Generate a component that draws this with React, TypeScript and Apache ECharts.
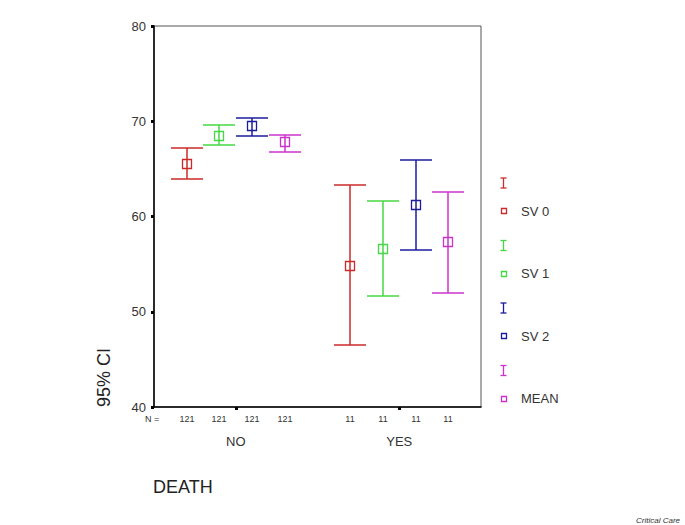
import React, { useEffect, useRef } from "react";
import * as echarts from "echarts";

const categories = ["NO", "YES"];
const seriesNames = ["SV 0", "SV 1", "SV 2", "MEAN"];
const colors = ["#cc2a2a", "#44d844", "#1c1c9c", "#cc33cc"];
const meanValues = [
  [65.5, 54.8],
  [68.5, 56.6],
  [69.5, 61.2],
  [67.8, 57.3],
];
const lowerValues = [
  [63.9, 46.5],
  [67.5, 51.7],
  [68.5, 56.5],
  [66.8, 52.0],
];
const upperValues = [
  [67.2, 63.3],
  [69.6, 61.6],
  [70.3, 65.9],
  [68.6, 62.6],
];
const nValues = [121, 11];
const yMin = 40;
const yMax = 80;
const yInterval = 10;

const FONT = "Liberation Sans, Arial, sans-serif";

export default function App() {
  const ref = useRef<HTMLDivElement>(null);
  useEffect(() => {
    if (!ref.current) return;
    const chart = echarts.init(ref.current, null, { renderer: "svg" });

    const series = seriesNames.map((name, s) => ({
      type: "custom",
      name,
      clip: false,
      encode: { x: 0, y: [1, 2] },
      data: categories.map((c, i) => [
        i,
        lowerValues[s][i],
        upperValues[s][i],
        meanValues[s][i],
        nValues[i],
      ]),
      renderItem: (params: any, api: any) => {
        const ci = api.value(0);
        const lo = api.value(1);
        const hi = api.value(2);
        const m = api.value(3);
        const n = api.value(4);
        const band = api.size([1, 0])[0];
        const offset = (s - 1.5) * band * 0.2;
        const x = Math.round(api.coord([ci, m])[0] + offset);
        const yLo = Math.round(api.coord([ci, lo])[1]);
        const yHi = Math.round(api.coord([ci, hi])[1]);
        const yM = api.coord([ci, m])[1];
        const yBase = api.coord([ci, yMin])[1];
        const half = 16;
        const st = { stroke: colors[s], lineWidth: 1.5, fill: "none" };
        return {
          type: "group",
          children: [
            { type: "line", shape: { x1: x, y1: yHi, x2: x, y2: yLo }, style: st },
            { type: "line", shape: { x1: x - half, y1: yHi, x2: x + half, y2: yHi }, style: st },
            { type: "line", shape: { x1: x - half, y1: yLo, x2: x + half, y2: yLo }, style: st },
            {
              type: "rect",
              shape: { x: x - 4.5, y: Math.round(yM) - 4.5, width: 9, height: 9 },
              style: { stroke: colors[s], lineWidth: 1.3, fill: "none" },
            },
            {
              type: "text",
              x: x,
              y: yBase + 12,
              style: {
                text: String(n),
                textAlign: "center",
                textVerticalAlign: "middle",
                fontSize: 9,
                fontFamily: FONT,
                fill: "#333",
                stroke: "none",
                lineWidth: 0,
              },
            },
          ],
        };
      },
    }));

    const legendGraphics: any[] = [];
    seriesNames.forEach((name, i) => {
      const boxY = 211 + 62.5 * i;
      const iY = boxY - 28;
      const st = { stroke: colors[i], lineWidth: 1.3, fill: "none" };
      legendGraphics.push(
        { type: "line", shape: { x1: 503.5, y1: iY - 5, x2: 503.5, y2: iY + 5 }, style: st },
        { type: "line", shape: { x1: 500.5, y1: iY - 5, x2: 506.5, y2: iY - 5 }, style: st },
        { type: "line", shape: { x1: 500.5, y1: iY + 5, x2: 506.5, y2: iY + 5 }, style: st },
        { type: "rect", shape: { x: 501.5, y: Math.round(boxY) - 2.5, width: 5, height: 5 }, style: st },
        {
          type: "text",
          x: 521,
          y: boxY,
          style: {
            text: name,
            textVerticalAlign: "middle",
            fontSize: 13,
            fontFamily: FONT,
            fill: "#333",
          },
        }
      );
    });

    chart.setOption({
      animation: false,
      backgroundColor: "#fff",
      grid: {
        left: 154,
        right: 204,
        top: 26,
        bottom: 118,
        show: true,
        borderColor: "#555",
        borderWidth: 1,
      },
      xAxis: {
        type: "category",
        data: categories,
        boundaryGap: true,
        axisLine: { lineStyle: { color: "#000", width: 1.5 } },
        axisTick: { show: true, alignWithLabel: true, length: 3, inside: false, lineStyle: { color: "#000", width: 3 } },
        axisLabel: { margin: 28, fontSize: 13, fontFamily: FONT, color: "#333" },
        splitLine: { show: false },
      },
      yAxis: {
        type: "value",
        min: yMin,
        max: yMax,
        interval: yInterval,
        axisLine: { show: true, lineStyle: { color: "#000", width: 1.5 } },
        axisTick: { show: true, length: 3, lineStyle: { color: "#000", width: 3 } },
        axisLabel: { margin: 8, fontSize: 13, fontFamily: FONT, color: "#333" },
        splitLine: { show: false },
      },
      series,
      graphic: [
        {
          type: "text",
          x: 152,
          y: 419,
          style: { text: "N =", textAlign: "center", textVerticalAlign: "middle", fontSize: 9, fontFamily: FONT, fill: "#333" },
        },
        {
          type: "text",
          x: 104,
          y: 407,
          rotation: Math.PI / 2,
          style: { text: "95% CI", textAlign: "left", textVerticalAlign: "middle", fontSize: 18, fontFamily: FONT, fill: "#222" },
        },
        {
          type: "text",
          x: 153,
          y: 487,
          style: { text: "DEATH", textAlign: "left", textVerticalAlign: "middle", fontSize: 18, fontFamily: FONT, fill: "#222" },
        },
        {
          type: "text",
          x: 680,
          y: 520,
          style: { text: "Critical Care", textAlign: "right", textVerticalAlign: "middle", fontSize: 8, fontStyle: "italic", fontFamily: FONT, fill: "#333" },
        },
        ...legendGraphics,
      ],
    });
    return () => chart.dispose();
  }, []);
  return (
    <div
      ref={ref}
      style={{ position: "fixed", left: 0, top: 0, width: 685, height: 525, background: "#fff" }}
    />
  );
}
